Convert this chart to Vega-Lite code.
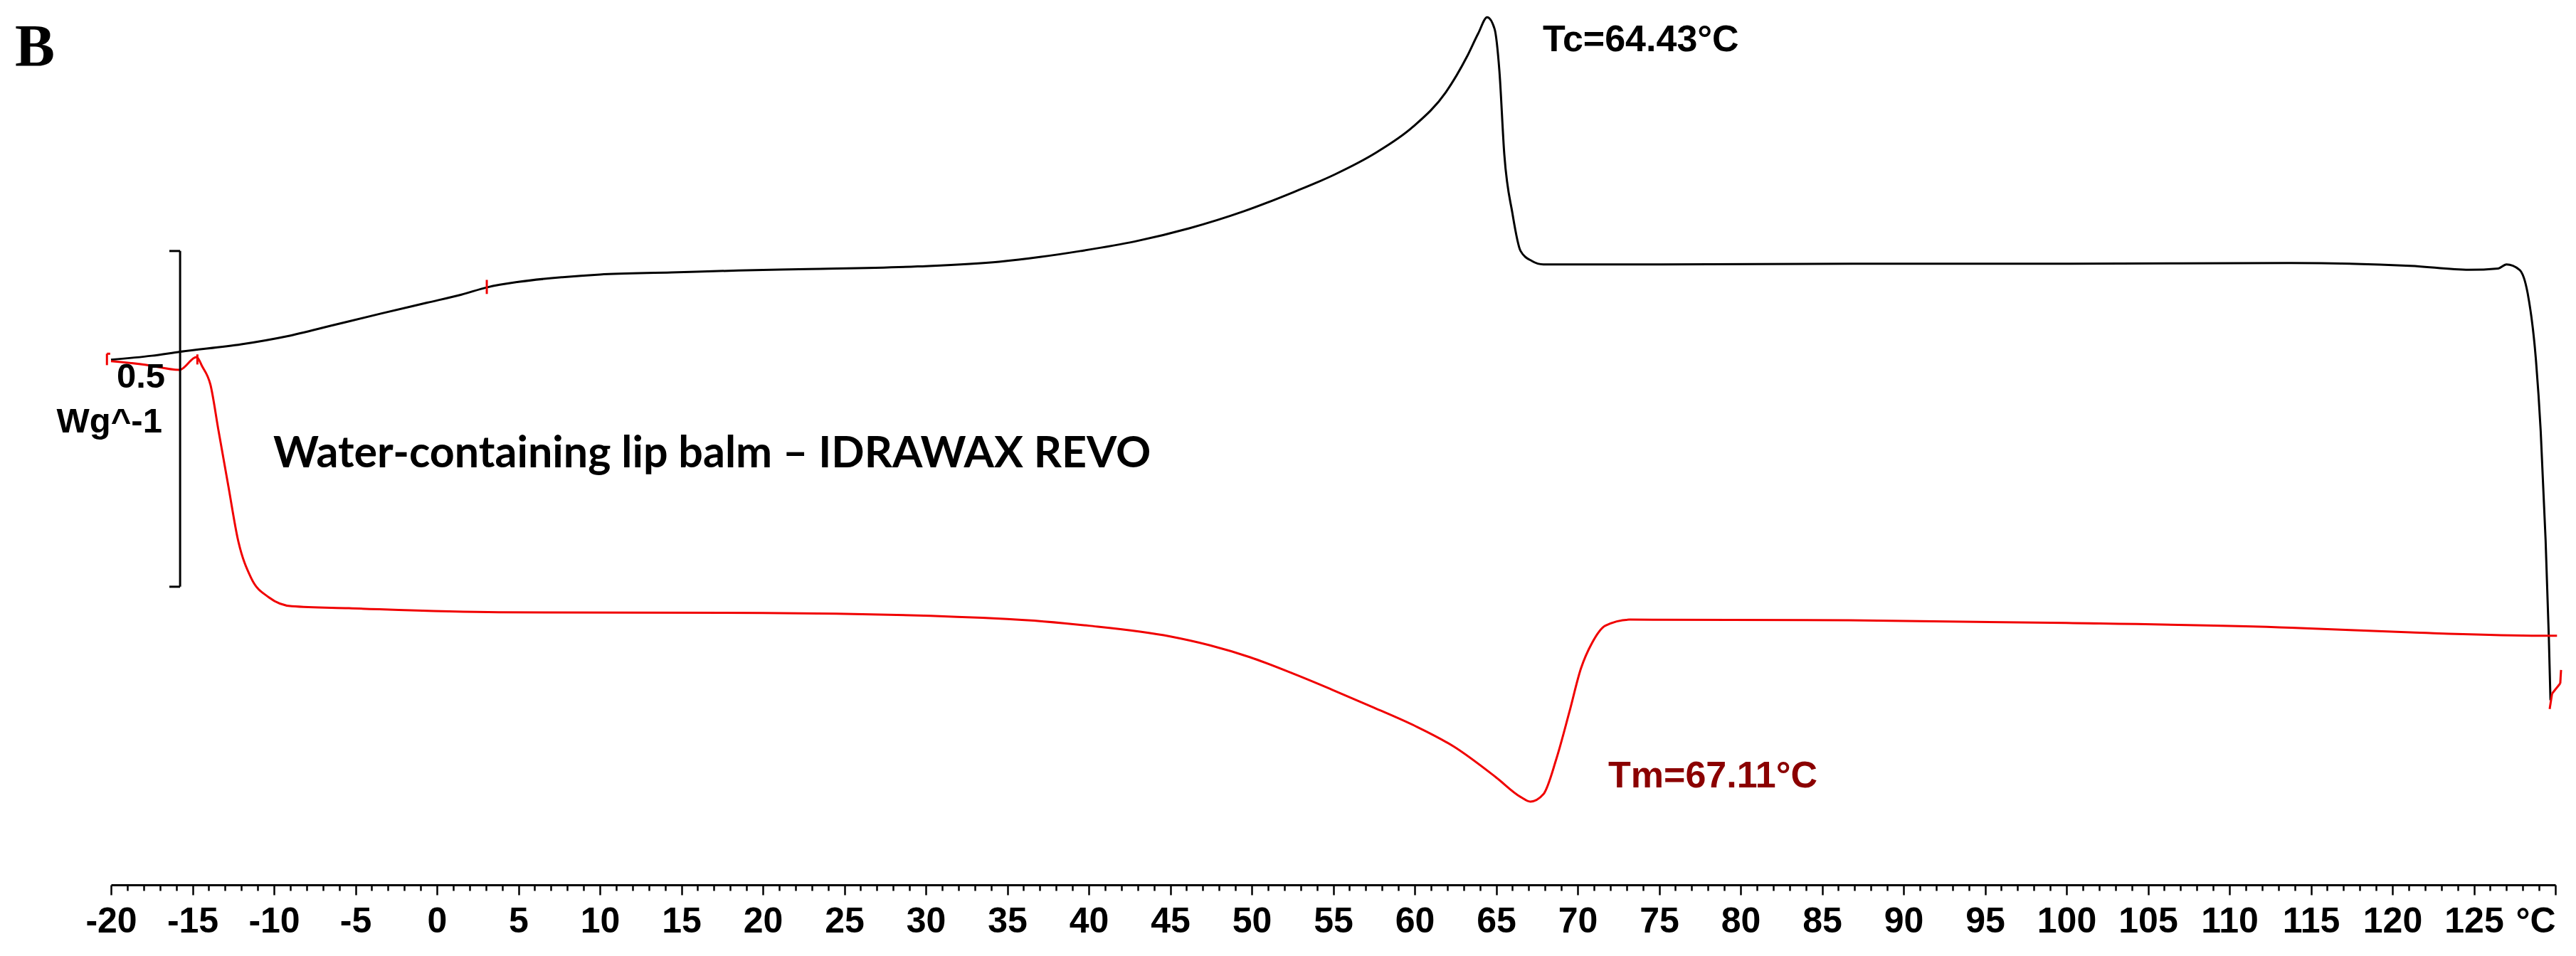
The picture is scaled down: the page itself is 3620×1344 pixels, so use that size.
{
  "$schema": "https://vega.github.io/schema/vega-lite/v6.json",
  "autosize": "none",
  "width": 3435,
  "height": 1244,
  "padding": {"left": 156, "top": 0, "right": 29, "bottom": 100},
  "background": "white",
  "datasets": {
    "curves": [
      {"run": "Cooling", "i": 1, "T": -20.0, "hf": 0.782},
      {"run": "Cooling", "i": 2, "T": -17.5, "hf": 0.788},
      {"run": "Cooling", "i": 3, "T": -15.75, "hf": 0.794},
      {"run": "Cooling", "i": 4, "T": -12.0, "hf": 0.805},
      {"run": "Cooling", "i": 5, "T": -9.2, "hf": 0.817},
      {"run": "Cooling", "i": 6, "T": -6.3, "hf": 0.834},
      {"run": "Cooling", "i": 7, "T": -3.4, "hf": 0.851},
      {"run": "Cooling", "i": 8, "T": -0.6, "hf": 0.867},
      {"run": "Cooling", "i": 9, "T": 1.5, "hf": 0.879},
      {"run": "Cooling", "i": 10, "T": 3.1, "hf": 0.890},
      {"run": "Cooling", "i": 11, "T": 5.0, "hf": 0.898},
      {"run": "Cooling", "i": 12, "T": 7.7, "hf": 0.905},
      {"run": "Cooling", "i": 13, "T": 10.0, "hf": 0.909},
      {"run": "Cooling", "i": 14, "T": 14.4, "hf": 0.912},
      {"run": "Cooling", "i": 15, "T": 18.5, "hf": 0.915},
      {"run": "Cooling", "i": 16, "T": 22.8, "hf": 0.917},
      {"run": "Cooling", "i": 17, "T": 29.5, "hf": 0.921},
      {"run": "Cooling", "i": 18, "T": 34.5, "hf": 0.928},
      {"run": "Cooling", "i": 19, "T": 37.0, "hf": 0.935},
      {"run": "Cooling", "i": 20, "T": 39.5, "hf": 0.944},
      {"run": "Cooling", "i": 21, "T": 42.8, "hf": 0.958},
      {"run": "Cooling", "i": 22, "T": 46.2, "hf": 0.978},
      {"run": "Cooling", "i": 23, "T": 49.5, "hf": 1.003},
      {"run": "Cooling", "i": 24, "T": 52.6, "hf": 1.032},
      {"run": "Cooling", "i": 25, "T": 55.1, "hf": 1.058},
      {"run": "Cooling", "i": 26, "T": 57.6, "hf": 1.090},
      {"run": "Cooling", "i": 27, "T": 59.9, "hf": 1.129},
      {"run": "Cooling", "i": 28, "T": 61.9, "hf": 1.180},
      {"run": "Cooling", "i": 29, "T": 63.2, "hf": 1.233},
      {"run": "Cooling", "i": 30, "T": 63.9, "hf": 1.268},
      {"run": "Cooling", "i": 31, "T": 64.45, "hf": 1.292},
      {"run": "Cooling", "i": 32, "T": 64.9, "hf": 1.275},
      {"run": "Cooling", "i": 33, "T": 65.2, "hf": 1.212},
      {"run": "Cooling", "i": 34, "T": 65.5, "hf": 1.088},
      {"run": "Cooling", "i": 35, "T": 66.0, "hf": 1.000},
      {"run": "Cooling", "i": 36, "T": 66.5, "hf": 0.944},
      {"run": "Cooling", "i": 37, "T": 67.2, "hf": 0.929},
      {"run": "Cooling", "i": 38, "T": 67.9, "hf": 0.924},
      {"run": "Cooling", "i": 39, "T": 75.0, "hf": 0.924},
      {"run": "Cooling", "i": 40, "T": 87.0, "hf": 0.925},
      {"run": "Cooling", "i": 41, "T": 100.0, "hf": 0.925},
      {"run": "Cooling", "i": 42, "T": 113.8, "hf": 0.926},
      {"run": "Cooling", "i": 43, "T": 121.1, "hf": 0.922},
      {"run": "Cooling", "i": 44, "T": 124.7, "hf": 0.916},
      {"run": "Cooling", "i": 45, "T": 126.5, "hf": 0.918},
      {"run": "Cooling", "i": 46, "T": 127.0, "hf": 0.924},
      {"run": "Cooling", "i": 47, "T": 127.8, "hf": 0.916},
      {"run": "Cooling", "i": 48, "T": 128.3, "hf": 0.881},
      {"run": "Cooling", "i": 49, "T": 128.8, "hf": 0.784},
      {"run": "Cooling", "i": 50, "T": 129.1, "hf": 0.676},
      {"run": "Cooling", "i": 51, "T": 129.4, "hf": 0.514},
      {"run": "Cooling", "i": 52, "T": 129.6, "hf": 0.368},
      {"run": "Cooling", "i": 53, "T": 129.7, "hf": 0.275},
      {"run": "Heating", "i": 1, "T": -20.0, "hf": 0.780},
      {"run": "Heating", "i": 2, "T": -18.0, "hf": 0.775},
      {"run": "Heating", "i": 3, "T": -15.8, "hf": 0.767},
      {"run": "Heating", "i": 4, "T": -14.75, "hf": 0.786},
      {"run": "Heating", "i": 5, "T": -14.4, "hf": 0.772},
      {"run": "Heating", "i": 6, "T": -13.9, "hf": 0.745},
      {"run": "Heating", "i": 7, "T": -13.4, "hf": 0.676},
      {"run": "Heating", "i": 8, "T": -12.8, "hf": 0.594},
      {"run": "Heating", "i": 9, "T": -12.2, "hf": 0.513},
      {"run": "Heating", "i": 10, "T": -11.4, "hf": 0.457},
      {"run": "Heating", "i": 11, "T": -10.3, "hf": 0.428},
      {"run": "Heating", "i": 12, "T": -8.9, "hf": 0.415},
      {"run": "Heating", "i": 13, "T": -5.4, "hf": 0.412},
      {"run": "Heating", "i": 14, "T": 3.8, "hf": 0.406},
      {"run": "Heating", "i": 15, "T": 20.0, "hf": 0.405},
      {"run": "Heating", "i": 16, "T": 35.0, "hf": 0.396},
      {"run": "Heating", "i": 17, "T": 40.0, "hf": 0.386},
      {"run": "Heating", "i": 18, "T": 45.0, "hf": 0.370},
      {"run": "Heating", "i": 19, "T": 47.4, "hf": 0.357},
      {"run": "Heating", "i": 20, "T": 49.9, "hf": 0.339},
      {"run": "Heating", "i": 21, "T": 52.4, "hf": 0.316},
      {"run": "Heating", "i": 22, "T": 54.9, "hf": 0.291},
      {"run": "Heating", "i": 23, "T": 57.5, "hf": 0.264},
      {"run": "Heating", "i": 24, "T": 60.0, "hf": 0.237},
      {"run": "Heating", "i": 25, "T": 62.4, "hf": 0.206},
      {"run": "Heating", "i": 26, "T": 65.0, "hf": 0.160},
      {"run": "Heating", "i": 27, "T": 66.5, "hf": 0.131},
      {"run": "Heating", "i": 28, "T": 67.1, "hf": 0.124},
      {"run": "Heating", "i": 29, "T": 67.9, "hf": 0.135},
      {"run": "Heating", "i": 30, "T": 68.7, "hf": 0.188},
      {"run": "Heating", "i": 31, "T": 69.5, "hf": 0.258},
      {"run": "Heating", "i": 32, "T": 70.2, "hf": 0.322},
      {"run": "Heating", "i": 33, "T": 70.9, "hf": 0.361},
      {"run": "Heating", "i": 34, "T": 71.7, "hf": 0.386},
      {"run": "Heating", "i": 35, "T": 73.2, "hf": 0.395},
      {"run": "Heating", "i": 36, "T": 86.7, "hf": 0.394},
      {"run": "Heating", "i": 37, "T": 100.0, "hf": 0.390},
      {"run": "Heating", "i": 38, "T": 113.8, "hf": 0.383},
      {"run": "Heating", "i": 39, "T": 121.1, "hf": 0.376},
      {"run": "Heating", "i": 40, "T": 129.5, "hf": 0.371},
      {"run": "Heating", "i": 41, "T": 130.1, "hf": 0.371}
    ],
    "segments": [
      {"part": "scalebar", "T": -15.76, "T2": -15.76, "hf": 0.944, "hf2": 0.444},
      {"part": "scalebar", "T": -16.42, "T2": -15.76, "hf": 0.944, "hf2": 0.944},
      {"part": "scalebar", "T": -16.42, "T2": -15.76, "hf": 0.444, "hf2": 0.444},
      {"part": "marker", "T": -20.25, "T2": -20.25, "hf": 0.791, "hf2": 0.774},
      {"part": "marker", "T": -20.25, "T2": -20.05, "hf": 0.791, "hf2": 0.791},
      {"part": "marker", "T": -14.7, "T2": -14.7, "hf": 0.790, "hf2": 0.775},
      {"part": "marker", "T": 3.06, "T2": 3.06, "hf": 0.901, "hf2": 0.880},
      {"part": "marker", "T": 129.65, "T2": 129.8, "hf": 0.262, "hf2": 0.285},
      {"part": "marker", "T": 129.8, "T2": 130.3, "hf": 0.285, "hf2": 0.300},
      {"part": "marker", "T": 130.3, "T2": 130.35, "hf": 0.300, "hf2": 0.320}
    ],
    "notes": [
      {"name": "panel", "T": -25.9, "hf": 1.219, "label": "B"},
      {"name": "scale", "T": -16.68, "hf": 0.740, "label": "0.5"},
      {"name": "unit", "T": -16.86, "hf": 0.674, "label": "Wg^-1"},
      {"name": "sample", "T": -10.04, "hf": 0.622, "label": "Water-containing lip balm – IDRAWAX REVO"},
      {"name": "tc", "T": 67.86, "hf": 1.2415, "label": "Tc=64.43°C"},
      {"name": "tm", "T": 71.88, "hf": 0.145, "label": "Tm=67.11°C"}
    ]
  },
  "encoding": {
    "x": {
      "field": "T",
      "type": "quantitative",
      "scale": {"domain": [-20, 130], "nice": false, "zero": false},
      "axis": {
        "title": null,
        "values": [-20,-19,-18,-17,-16,-15,-14,-13,-12,-11,-10,-9,-8,-7,-6,-5,-4,-3,-2,-1,0,1,2,3,4,5,6,7,8,9,10,11,12,13,14,15,16,17,18,19,20,21,22,23,24,25,26,27,28,29,30,31,32,33,34,35,36,37,38,39,40,41,42,43,44,45,46,47,48,49,50,51,52,53,54,55,56,57,58,59,60,61,62,63,64,65,66,67,68,69,70,71,72,73,74,75,76,77,78,79,80,81,82,83,84,85,86,87,88,89,90,91,92,93,94,95,96,97,98,99,100,101,102,103,104,105,106,107,108,109,110,111,112,113,114,115,116,117,118,119,120,121,122,123,124,125,126,127,128,129,130],
        "labelExpr": "datum.value % 5 === 0 ? (datum.value === 130 ? '°C' : toString(datum.value)) : ''",
        "labelAlign": {"condition": {"test": "datum.value === 130", "value": "right"}, "value": "center"},
        "labelOverlap": false,
        "labelFlush": false,
        "labelBound": false,
        "labelFont": "Liberation Sans",
        "labelFontWeight": "bold",
        "labelFontSize": 50,
        "labelColor": "black",
        "labelPadding": 12,
        "tickSize": {"condition": {"test": "datum.value % 5 === 0", "value": 14}, "value": 8},
        "tickWidth": 2.5,
        "tickColor": "black",
        "domainColor": "black",
        "domainWidth": 3,
        "grid": false
      }
    },
    "y": {
      "field": "hf",
      "type": "quantitative",
      "scale": {"domain": [0, 1.3178], "nice": false, "zero": false},
      "axis": null
    }
  },
  "layer": [
    {
      "data": {"name": "curves"},
      "mark": {"type": "line", "strokeWidth": 3, "interpolate": "monotone"},
      "encoding": {
        "color": {
          "field": "run",
          "type": "nominal",
          "scale": {"domain": ["Cooling", "Heating"], "range": ["#000000", "#f00000"]},
          "legend": null
        },
        "order": {"field": "i", "type": "quantitative"}
      }
    },
    {
      "data": {"name": "segments"},
      "transform": [{"filter": "datum.part === 'scalebar'"}],
      "mark": {"type": "rule", "strokeWidth": 3, "color": "black"},
      "encoding": {
        "x2": {"field": "T2"},
        "y2": {"field": "hf2"}
      }
    },
    {
      "data": {"name": "segments"},
      "transform": [{"filter": "datum.part === 'marker'"}],
      "mark": {"type": "rule", "strokeWidth": 3, "color": "#f00000"},
      "encoding": {
        "x2": {"field": "T2"},
        "y2": {"field": "hf2"}
      }
    },
    {
      "data": {"name": "notes"},
      "transform": [{"filter": "datum.name === 'panel'"}],
      "mark": {"type": "text", "font": "Liberation Serif", "fontWeight": "bold", "fontSize": 84, "align": "left", "baseline": "alphabetic", "color": "black"},
      "encoding": {"text": {"field": "label"}}
    },
    {
      "data": {"name": "notes"},
      "transform": [{"filter": "datum.name === 'scale' || datum.name === 'unit'"}],
      "mark": {"type": "text", "font": "Liberation Sans", "fontWeight": "bold", "fontSize": 49, "align": "right", "baseline": "alphabetic", "color": "black"},
      "encoding": {"text": {"field": "label"}}
    },
    {
      "data": {"name": "notes"},
      "transform": [{"filter": "datum.name === 'sample'"}],
      "mark": {"type": "text", "font": "Lato", "fontWeight": "bold", "fontSize": 61, "align": "left", "baseline": "alphabetic", "color": "black"},
      "encoding": {"text": {"field": "label"}}
    },
    {
      "data": {"name": "notes"},
      "transform": [{"filter": "datum.name === 'tc'"}],
      "mark": {"type": "text", "font": "Liberation Sans", "fontWeight": "bold", "fontSize": 52, "align": "left", "baseline": "alphabetic", "color": "black"},
      "encoding": {"text": {"field": "label"}}
    },
    {
      "data": {"name": "notes"},
      "transform": [{"filter": "datum.name === 'tm'"}],
      "mark": {"type": "text", "font": "Liberation Sans", "fontWeight": "bold", "fontSize": 52, "align": "left", "baseline": "alphabetic", "color": "#8b0000"},
      "encoding": {"text": {"field": "label"}}
    }
  ],
  "config": {"view": {"stroke": null}}
}
